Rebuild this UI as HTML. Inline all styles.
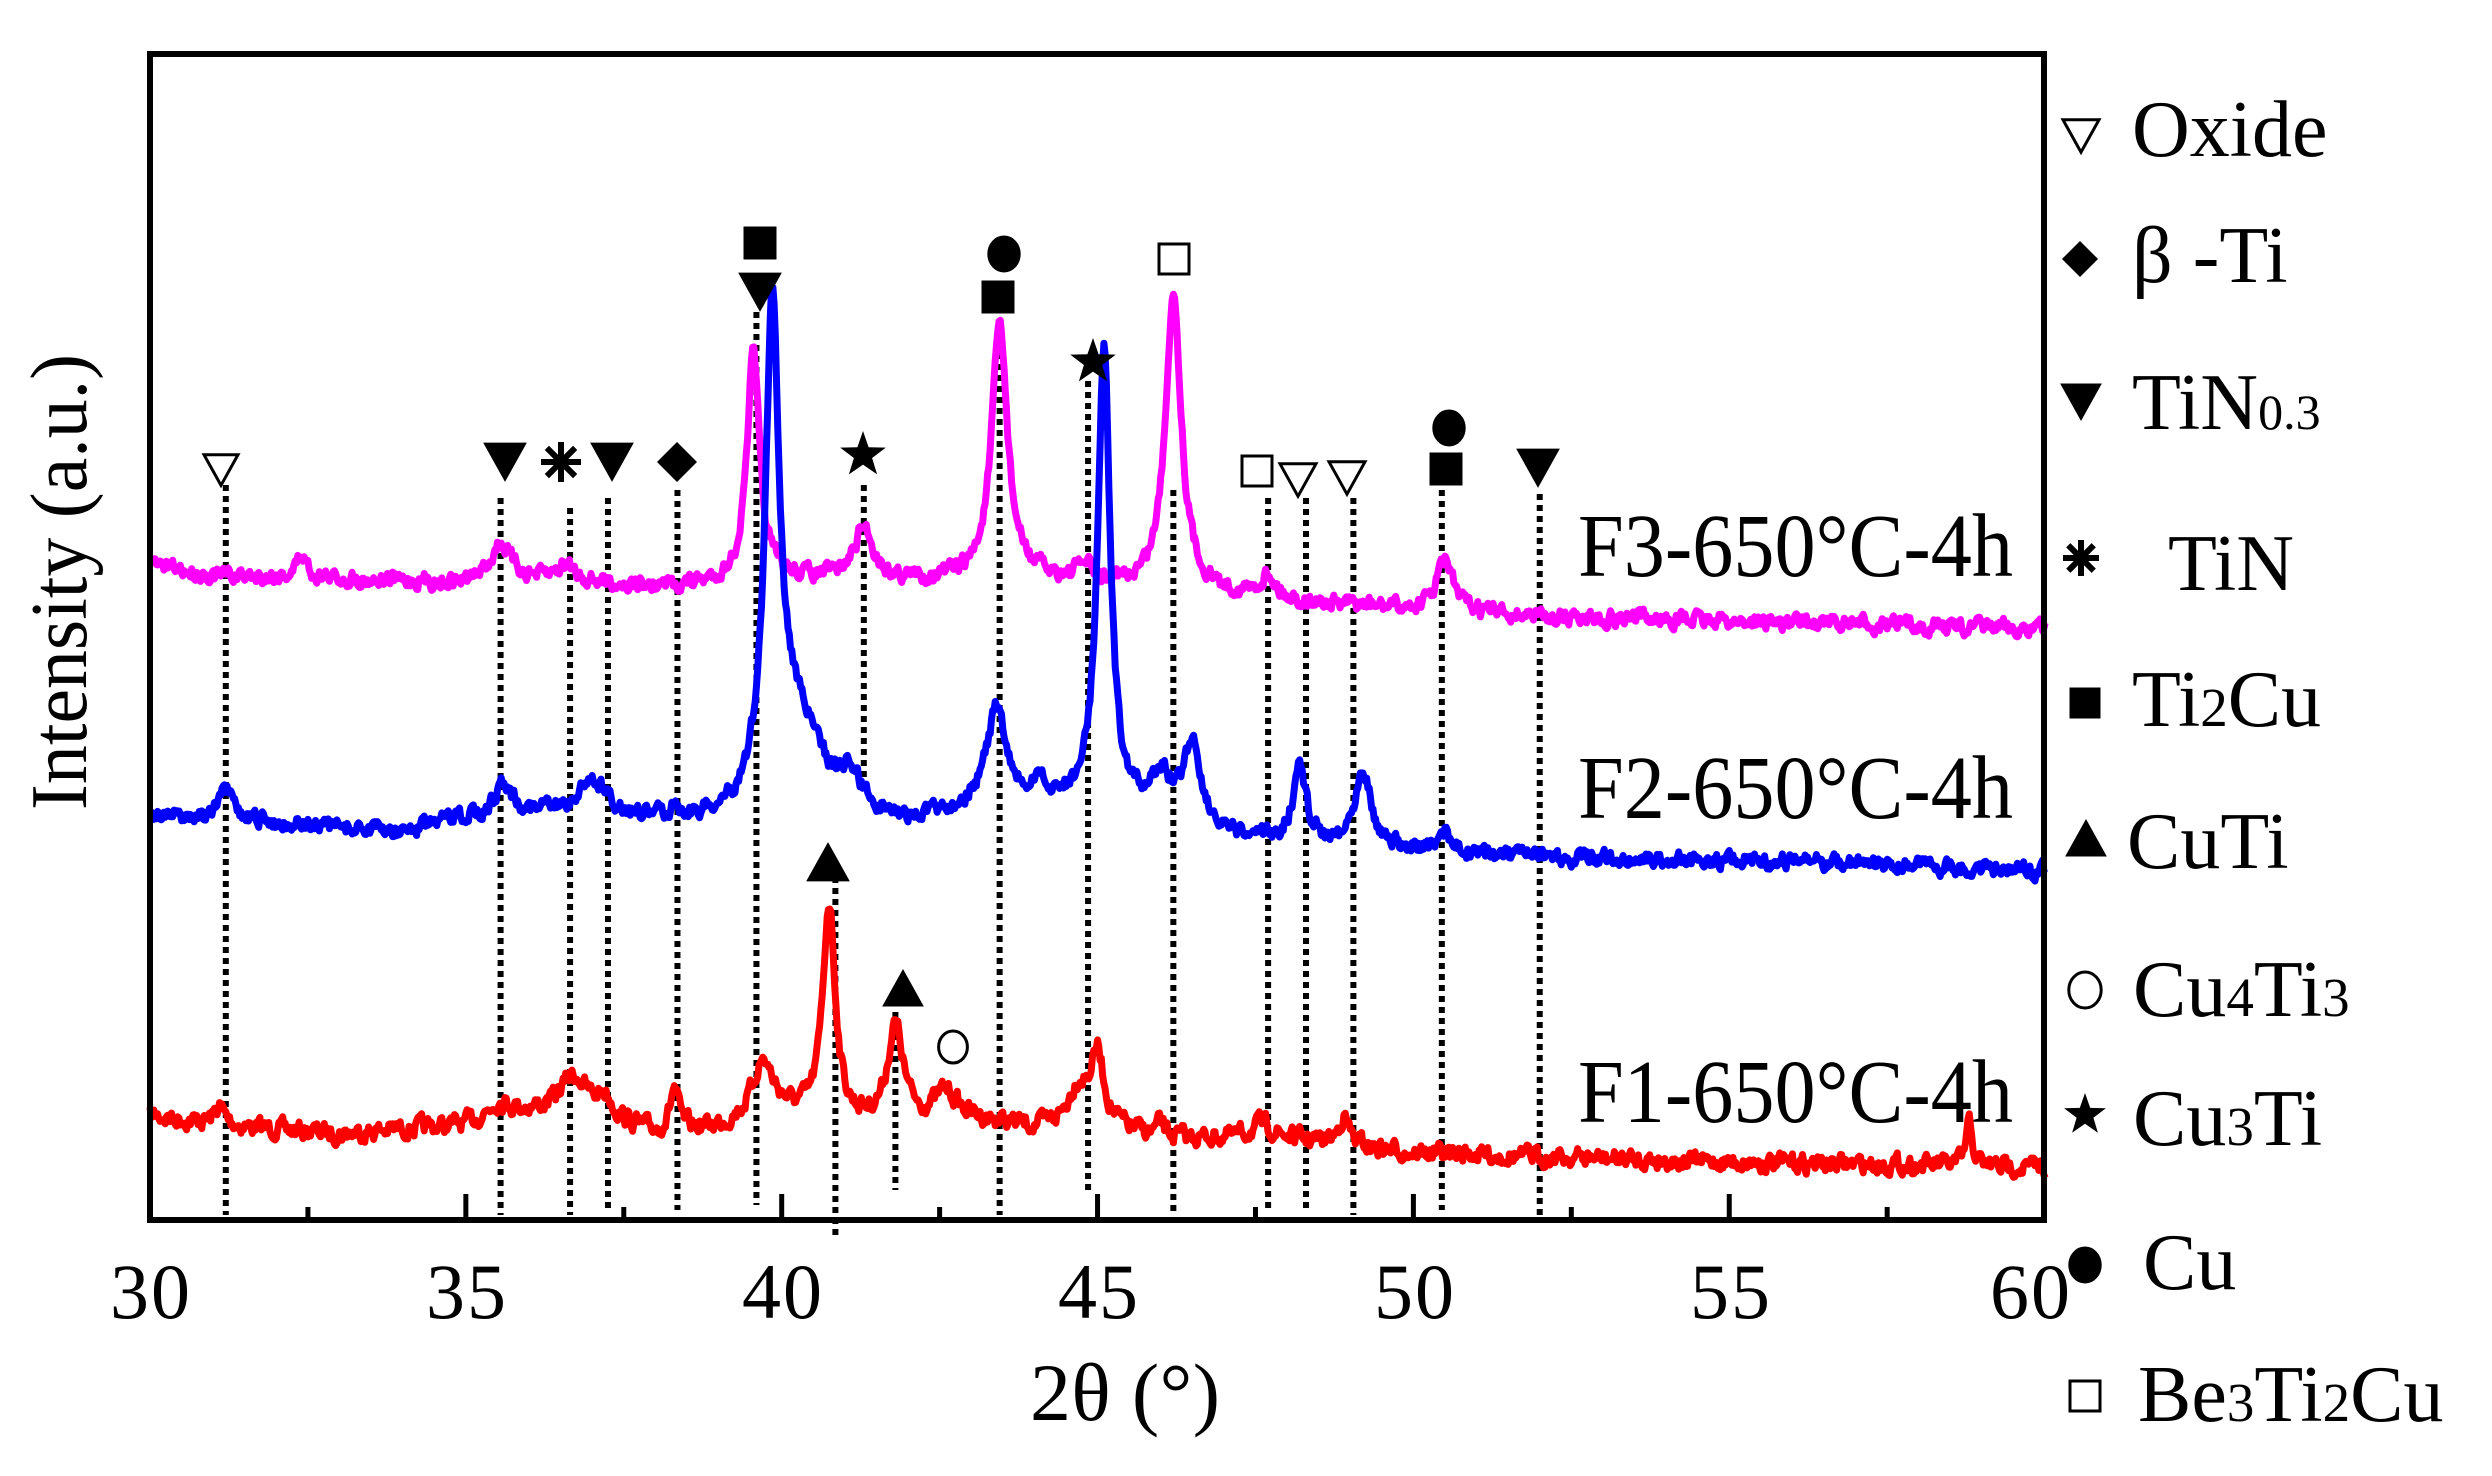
<!DOCTYPE html>
<html><head><meta charset="utf-8"><style>
html,body{margin:0;padding:0;background:#fff;}
svg{display:block;}
text{font-family:"Liberation Serif","DejaVu Serif",serif;fill:#000;}
</style></head><body>
<svg id="s" width="2492" height="1476" viewBox="0 0 2492 1476" xmlns="http://www.w3.org/2000/svg">
<g id="dots"></g>
<g id="curves"></g>
<g id="marks"></g>
<rect x="150" y="54" width="1894" height="1166" fill="none" stroke="#000" stroke-width="6"/>
<g id="ticks"></g>
<g font-size="78" text-anchor="middle">
<text x="150" y="1318" textLength="80">30</text>
<text x="466" y="1318" textLength="80">35</text>
<text x="782" y="1318" textLength="80">40</text>
<text x="1098" y="1318" textLength="80">45</text>
<text x="1414" y="1318" textLength="80">50</text>
<text x="1730" y="1318" textLength="80">55</text>
<text x="2030" y="1318" textLength="80">60</text>
</g>
<text x="1125" y="1420" font-size="82" text-anchor="middle" textLength="190">2θ (°)</text>
<text transform="translate(86,582) rotate(-90)" font-size="80" text-anchor="middle" textLength="456" lengthAdjust="spacingAndGlyphs">Intensity (a.u.)</text>
<g font-size="90">
<text x="1578" y="576" textLength="435" lengthAdjust="spacingAndGlyphs">F3-650°C-4h</text>
<text x="1578" y="818" textLength="435" lengthAdjust="spacingAndGlyphs">F2-650°C-4h</text>
<text x="1578" y="1122" textLength="435" lengthAdjust="spacingAndGlyphs">F1-650°C-4h</text>
</g>
<g font-size="80">
<text x="2132" y="156">Oxide</text>
<text x="2132" y="282">β -Ti</text>
<text x="2132" y="429">TiN<tspan font-size="50">0.3</tspan></text>
<text x="2168" y="590">TiN</text>
<text x="2132" y="726">Ti<tspan font-size="55">2</tspan>Cu</text>
<text x="2127" y="868">CuTi</text>
<text x="2133" y="1016">Cu<tspan font-size="55">4</tspan>Ti<tspan font-size="55">3</tspan></text>
<text x="2133" y="1145">Cu<tspan font-size="55">3</tspan>Ti</text>
<text x="2143" y="1289">Cu</text>
<text x="2138" y="1421">Be<tspan font-size="55">3</tspan>Ti<tspan font-size="55">2</tspan>Cu</text>
</g>
<g id="leg"></g>
</svg>
<script>
var NS="http://www.w3.org/2000/svg";
function X(d){return 150+(d-30)*63.17;}
function el(p,t,a){var e=document.createElementNS(NS,t);for(var k in a)e.setAttribute(k,a[k]);document.getElementById(p).appendChild(e);return e;}
for(var d=30;d<=60;d+=2.5){var maj=(d%5==0);if(d==30||d==60)continue;el("ticks","line",{x1:X(d),x2:X(d),y1:1220,y2:maj?1194:1207,stroke:"#000","stroke-width":5});}
var dl=[[31.2,485,1215],[35.55,498,1215],[36.65,508,1215],[37.25,498,1210],[38.35,490,1210],[39.6,312,1205],[40.85,866,1235],[41.8,1012,1190],[41.3,485,790],[43.45,320,1215],[44.85,381,1190],[46.2,490,1215],[47.7,498,1210],[48.3,498,1210],[49.05,498,1215],[50.45,490,1210],[52.0,494,1215]];
dl.forEach(function(l){el("dots","line",{x1:X(l[0]),x2:X(l[0]),y1:l[1],y2:l[2],stroke:"#000","stroke-width":6,"stroke-dasharray":"6 5"});});
var seed=7;function rnd(){seed=(seed*16807)%2147483647;return seed/2147483647;}
function interp(b,x){for(var i=0;i<b.length-1;i++){if(x<=b[i+1][0]){var t=(x-b[i][0])/(b[i+1][0]-b[i][0]);return b[i][1]+t*(b[i+1][1]-b[i][1]);}}return b[b.length-1][1];}
function curve(b,p,col,nz){var pts=[];var n=0;for(var x=30;x<=60.001;x+=0.02){n=n*0.5+(rnd()-0.5)*nz;var y=interp(b,x);p.forEach(function(k){var u=(x-k[0])/k[2];y-=k[1]/(1+u*u);});y+=n;pts.push(X(x).toFixed(1)+","+(y*0.941).toFixed(1));}
el("curves","polyline",{points:pts.join(" "),fill:"none",stroke:col,"stroke-width":7,"stroke-linejoin":"round"});}
curve([[30,1185],[31,1195],[33,1205],[35,1195],[35.6,1180],[37,1185],[38,1205],[39,1200],[40,1185],[41,1195],[43,1190],[44,1200],[45,1195],[46,1210],[48,1210],[50,1225],[55,1235],[60,1240]],
[[31.1,20,0.1],[35.5,10,0.15],[36.7,40,0.25],[37.2,20,0.15],[38.3,45,0.08],[39.7,60,0.2],[40.75,230,0.12],[41.8,100,0.15],[42.6,30,0.2],[44.7,40,0.2],[45.0,70,0.12],[46,15,0.08],[47.6,15,0.2],[48.9,30,0.1],[58.8,45,0.06]],"#ff0000",16);
curve([[30,600],[31,612],[33,615],[35,620],[36.5,615],[38,625],[39,620],[40,615],[42,618],[44,615],[45,625],[46,625],[48,640],[50,648],[52,655],[55,660],[60,668]],
[[32.4,25,0.1],[35.55,40,0.2],[36.6,15,0.15],[39.55,240,0.12],[41.3,55,0.18],[43.45,270,0.15],[44.8,20,0.15],[46.2,315,0.15],[47.7,25,0.15],[50.5,55,0.15]],"#ff00ff",14);
curve([[30,865],[32,875],[34,885],[35,870],[36,865],[38,875],[39,880],[40,880],[41,870],[42,880],[43,860],[44,855],[45,860],[46,870],[47,895],[48,895],[50,905],[52,912],[56,915],[60,925]],
[[31.2,30,0.12],[35.6,35,0.15],[37,40,0.25],[38.3,10,0.1],[39.85,500,0.13],[40.2,110,0.5],[41.1,30,0.15],[43.4,100,0.18],[44.1,15,0.1],[45.1,490,0.12],[46,40,0.15],[46.5,90,0.18],[48.2,80,0.12],[49.2,85,0.15],[50.5,25,0.08]],"#0000ff",14);
function tri(g,x,y,s,down,fill){var h=s*0.9;var p=down?[[x-s/2,y-h/2],[x+s/2,y-h/2],[x,y+h/2]]:[[x-s/2,y+h/2],[x+s/2,y+h/2],[x,y-h/2]];el(g,"polygon",{points:p.map(function(q){return q.join(",")}).join(" "),fill:fill?"#000":"#fff",stroke:"#000","stroke-width":fill?1:3});}
function sq(g,x,y,s,fill){el(g,"rect",{x:x-s/2,y:y-s/2,width:s,height:s,fill:fill?"#000":"#fff",stroke:"#000","stroke-width":fill?1:3});}
function circ(g,x,y,r,fill){el(g,"ellipse",{cx:x,cy:y,rx:r*0.9,ry:r,fill:fill?"#000":"#fff",stroke:"#000","stroke-width":fill?1:3});}
function dia(g,x,y,s){el(g,"polygon",{points:[x,y-s/2,x+s/2,y,x,y+s/2,x-s/2,y].join(","),fill:"#000"});}
function star(g,x,y,r){var p=[];for(var i=0;i<10;i++){var a=-Math.PI/2+i*Math.PI/5;var rr=i%2?r*0.4:r;p.push((x+rr*Math.cos(a)).toFixed(1)+","+(y+rr*Math.sin(a)).toFixed(1));}el(g,"polygon",{points:p.join(" "),fill:"#000"});}
function ast(g,x,y,r){for(var i=0;i<4;i++){var a=i*Math.PI/4;el(g,"line",{x1:x-r*Math.cos(a),y1:y-r*Math.sin(a),x2:x+r*Math.cos(a),y2:y+r*Math.sin(a),stroke:"#000","stroke-width":6});}}
var m="marks";
tri(m,221,470,34,true,false);
tri(m,505,462,42,true,true);ast(m,561,462,20);tri(m,612,462,42,true,true);dia(m,677,462,40);
sq(m,760,243,32,true);tri(m,760,292,42,true,true);
star(m,863,455,24);circ(m,1004,254,18,true);sq(m,998,297,32,true);star(m,1093,362,24);
sq(m,1174,259,30,false);sq(m,1257,471,30,false);tri(m,1298,480,36,true,false);tri(m,1347,478,36,true,false);
circ(m,1449,428,18,true);sq(m,1446,469,32,true);tri(m,1538,468,42,true,true);
tri(m,828,862,42,false,true);tri(m,903,988,40,false,true);circ(m,953,1047,16,false);
var g="leg";
tri(g,2081,136,36,true,false);dia(g,2080,259,36);tri(g,2081,402,40,true,true);ast(g,2081,558,18);
sq(g,2085,703,30,true);tri(g,2086,838,40,false,true);circ(g,2085,990,18,false);star(g,2085,1115,22);circ(g,2085,1265,18,true);sq(g,2085,1396,30,false);
</script>
</body></html>
